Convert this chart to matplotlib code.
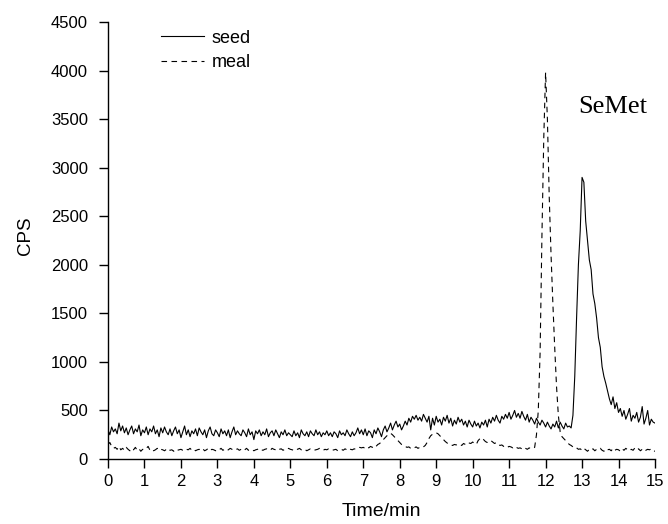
import numpy as np
import matplotlib
matplotlib.use("Agg")
import matplotlib.pyplot as plt

plt.rcParams['font.family'] = ['Liberation Sans', 'DejaVu Sans']

# sampled every 0.05 min, 0 .. 15 min
time_min = np.linspace(0, 15, 301)

seed = [
    300, 250, 330, 280, 310, 260, 370, 290, 340, 270, 320, 250, 300, 340, 260, 310, 280, 350, 240, 300,
    270, 330, 250, 310, 280, 340, 260, 300, 230, 320, 270, 330, 280, 250, 310, 240, 290, 330, 260, 300,
    220, 280, 340, 250, 300, 230, 290, 260, 310, 240, 320, 280, 250, 300, 220, 290, 330, 260, 240, 300,
    270, 230, 310, 260, 290, 240, 300, 220, 280, 330, 250, 290, 260, 240, 300, 270, 230, 310, 250, 280,
    200, 290, 260, 300, 240, 280, 250, 310, 230, 270, 290, 240, 300, 260, 220, 280, 250, 300, 240, 270,
    250, 230, 290, 240, 270, 220, 300, 260, 240, 280, 230, 290, 260, 240, 300, 250, 280, 230, 270, 250,
    290, 240, 270, 230, 280, 260, 220, 290, 250, 270, 240, 300, 260, 230, 280, 240, 270, 320, 260, 300,
    250, 310, 240, 290, 270, 220, 300, 260, 320, 280, 230, 300, 340, 280, 320, 370, 300, 350, 390, 330,
    360, 300, 340, 390, 350, 420, 380, 440, 410, 450, 400, 430, 390, 460, 420, 380, 440, 300, 420, 350,
    440, 380, 410, 350, 430, 390, 450, 370, 420, 340, 400, 360, 430, 380, 410, 350, 390, 330, 400, 360,
    330, 390, 340, 370, 320, 380, 350, 400, 330, 410, 370, 430, 390, 450, 400, 370, 440, 410, 460, 420,
    480, 410, 450, 500, 430, 470, 420, 490, 440, 400, 460, 380, 430, 400, 360, 420, 380, 350, 400, 370,
    330, 380, 340, 310, 360, 330, 390, 320, 380, 340, 310, 370, 330, 340, 320, 450, 850, 1450, 2000, 2350,
    2900, 2850, 2450, 2250, 2050, 1950, 1700, 1600, 1450, 1250, 1150, 950, 850, 780, 700, 620, 560, 640, 520, 580,
    480, 520, 440, 500, 410, 460, 520, 390, 450, 420, 480, 380, 430, 540, 360, 420, 500, 350, 410, 380,
    370,
]

meal = [
    150, 170, 130, 110, 120, 100, 130, 95, 110, 90, 120, 100, 85, 110, 95, 120, 90, 105, 80, 100,
    95, 110, 130, 90, 100, 85, 95, 110, 90, 100, 95, 85, 100, 110, 90, 95, 80, 100, 90, 95,
    100, 90, 85, 100, 95, 110, 90, 100, 85, 95, 100, 90, 105, 85, 95, 110, 90, 100, 95, 85,
    100, 95, 110, 90, 100, 85, 95, 110, 100, 90, 95, 105, 90, 100, 85, 95, 110, 90, 100, 95,
    85, 95, 100, 110, 95, 90, 100, 105, 95, 90, 110, 100, 95, 85, 100, 105, 90, 100, 95, 110,
    100, 95, 90, 105, 100, 110, 95, 90, 100, 85, 95, 105, 100, 90, 95, 100, 110, 95, 90, 100,
    95, 105, 100, 90, 95, 100, 85, 95, 100, 90, 105, 95, 110, 100, 95, 105, 100, 110, 120, 115,
    120, 110, 125, 115, 130, 120, 140, 130, 150, 160, 180, 200, 220, 240, 255, 265, 250, 230, 210, 190,
    170, 150, 140, 130, 120, 125, 110, 120, 115, 125, 110, 120, 130, 125, 140, 170, 210, 240, 255, 265,
    270, 260, 240, 220, 200, 180, 165, 150, 145, 140, 150, 145, 155, 150, 140, 160, 150, 170, 165, 160,
    175, 160, 150, 190, 210, 220, 200, 180, 170, 185, 190, 175, 160, 170, 150, 140, 145, 130, 135, 120,
    130, 125, 115, 130, 120, 110, 115, 105, 120, 110, 100, 115, 105, 110, 120, 250, 500, 1100, 2300, 3300,
    3980, 3500, 2700, 2100, 1600, 1150, 750, 450, 280, 230, 210, 190, 170, 150, 140, 125, 110, 115, 100, 105,
    90, 110, 95, 80, 100, 90, 105, 85, 100, 95, 110, 90, 80, 105, 95, 100, 85, 110, 90, 100,
    95, 80, 105, 90, 110, 95, 85, 100, 90, 115, 95, 105, 85, 100, 110, 90, 100, 95, 105, 85,
    80,
]

x_ticks = list(range(0, 16))
y_ticks = list(range(0, 4501, 500))

fig = plt.figure(figsize=(6.68, 5.24), dpi=100)
ax = fig.add_axes([0.1617, 0.124, 0.8188, 0.834])

ax.plot(time_min, seed, color='black', lw=0.8, label='seed')
ax.plot(time_min, meal, color='black', lw=0.8, ls=(0, (5, 4)), label='meal')

ax.set_xlim(0, 15)
ax.set_ylim(0, 4500)
ax.set_xticks(x_ticks)
ax.set_yticks(y_ticks)
ax.tick_params(direction='out', length=6.5, width=1, labelsize=12)
ax.tick_params(axis='x', pad=4)
ax.tick_params(axis='y', pad=8)

for side in ['top', 'right']:
    ax.spines[side].set_visible(False)
for side in ['left', 'bottom']:
    ax.spines[side].set_linewidth(1)

ax.set_xlabel('Time/min', fontsize=14)
ax.set_ylabel('CPS', fontsize=13.5)
ax.xaxis.set_label_coords(0.5, -0.10)
ax.yaxis.set_label_coords(-0.135, 0.51)

ax.text(12.89, 3563, 'SeMet', family=['Liberation Serif'], fontsize=19)

ax.legend(loc='upper left', bbox_to_anchor=(0.08, 1.003), frameon=False,
          fontsize=13, handlelength=2.4, handletextpad=0.4, labelspacing=0.4,
          borderpad=0)

fig.savefig('out.png', dpi=100)
